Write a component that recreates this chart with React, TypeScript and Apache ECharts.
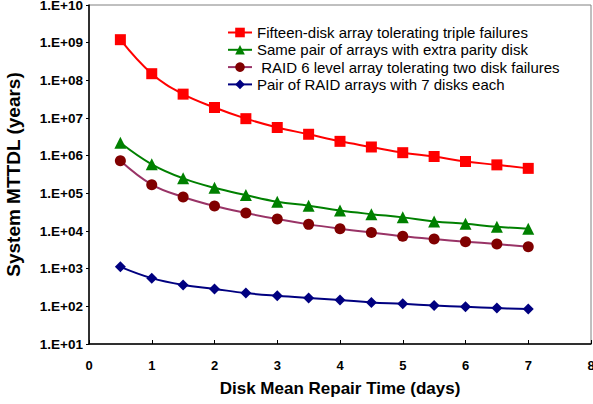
import React, { useEffect, useRef } from "react";
import * as echarts from "echarts";

const repairDays = [0.5, 1, 1.5, 2, 2.5, 3, 3.5, 4, 4.5, 5, 5.5, 6, 6.5, 7];
const fifteenDisk = [1.2e9, 1.5e8, 4.3e7, 1.9e7, 9.6e6, 5.6e6, 3.7e6, 2.4e6, 1.7e6, 1.2e6, 9.5e5, 7.0e5, 5.7e5, 4.6e5];
const extraParity = [2.2e6, 5.9e5, 2.5e5, 1.4e5, 9.0e4, 6.0e4, 4.7e4, 3.5e4, 2.8e4, 2.3e4, 1.8e4, 1.55e4, 1.3e4, 1.15e4];
const raid6 = [7.3e5, 1.7e5, 8.0e4, 4.6e4, 3.0e4, 2.07e4, 1.5e4, 1.15e4, 9.1e3, 7.3e3, 6.1e3, 5.2e3, 4.5e3, 3.8e3];
const raidPair = [1120, 560, 370, 290, 225, 190, 166, 147, 127, 117, 105, 97, 90, 85];

const seriesNames = [
  "Fifteen-disk array tolerating triple failures",
  "Same pair of arrays with extra parity disk",
  " RAID 6 level array tolerating two disk failures",
  "Pair of RAID arrays with 7 disks each",
];

const FONT = "'Liberation Sans', Arial, sans-serif";

function pairs(vals: number[]) {
  return repairDays.map((d, i) => [d, vals[i]]);
}

export default function App() {
  const ref = useRef<HTMLDivElement>(null);
  useEffect(() => {
    if (!ref.current) return;
    const chart = echarts.init(ref.current, undefined, { renderer: "svg" });
    const mk = (name: string, vals: number[], lineColor: string, markColor: string, symbol: string, size: number) => ({
      name,
      type: "line",
      data: pairs(vals),
      smooth: 0.4,
      symbol,
      symbolSize: size,
      lineStyle: { color: lineColor, width: 2 },
      itemStyle: { color: markColor, borderWidth: 0 },
      emphasis: { disabled: true },
    });
    chart.setOption({
      animation: false,
      backgroundColor: "#ffffff",
      textStyle: { fontFamily: FONT },
      grid: {
        left: 89,
        top: 5,
        width: 502,
        height: 339,
        containLabel: false,
        outerBoundsMode: "none",
        show: true,
        borderColor: "#808080",
        borderWidth: 1,
        backgroundColor: "transparent",
      },
      legend: {
        orient: "vertical",
        left: 227,
        top: 25,
        padding: 0,
        itemWidth: 24,
        itemHeight: 12,
        itemGap: 2.3,
        data: seriesNames,
        textStyle: { fontFamily: FONT, fontSize: 15, lineHeight: 15, color: "#000" },
        selectedMode: false,
      },
      xAxis: {
        type: "value",
        min: 0,
        max: 8,
        interval: 1,
        name: "Disk Mean Repair Time (days)",
        nameLocation: "middle",
        nameGap: 36,
        nameTextStyle: { fontFamily: FONT, fontSize: 17, fontWeight: "bold", color: "#000" },
        axisLine: { lineStyle: { color: "#000", width: 1.5 } },
        axisTick: { inside: true, length: 4, lineStyle: { color: "#000" } },
        axisLabel: { fontFamily: FONT, fontSize: 13, fontWeight: "bold", color: "#000", margin: 15 },
        splitLine: { show: false },
      },
      yAxis: {
        type: "log",
        logBase: 10,
        min: 10,
        max: 1e10,
        name: "System MTTDL (years)",
        nameLocation: "middle",
        nameGap: 66,
        nameTextStyle: { fontFamily: FONT, fontSize: 19, fontWeight: "bold", color: "#000" },
        axisLine: { lineStyle: { color: "#000", width: 1.5 } },
        axisTick: { inside: false, length: 3, lineStyle: { color: "#000" } },
        axisLabel: {
          fontFamily: FONT,
          fontSize: 13.5,
          fontWeight: "bold",
          color: "#000",
          margin: 6,
          formatter: (v: number) => {
            const e = Math.round(Math.log10(v));
            return "1.E+" + (e < 10 ? "0" + e : String(e));
          },
        },
        splitLine: { show: false },
        minorTick: { show: false },
      },
      series: [
        mk(seriesNames[0], fifteenDisk, "#FF0000", "#FF0000", "rect", 11),
        mk(seriesNames[1], extraParity, "#008000", "#008000", "triangle", 12),
        mk(seriesNames[2], raid6, "#993366", "#800000", "circle", 11),
        mk(seriesNames[3], raidPair, "#000080", "#000080", "diamond", 11),
      ],
    });
    return () => chart.dispose();
  }, []);
  return <div ref={ref} style={{ position: "fixed", left: 0, top: 0, width: 593, height: 404 }} />;
}
